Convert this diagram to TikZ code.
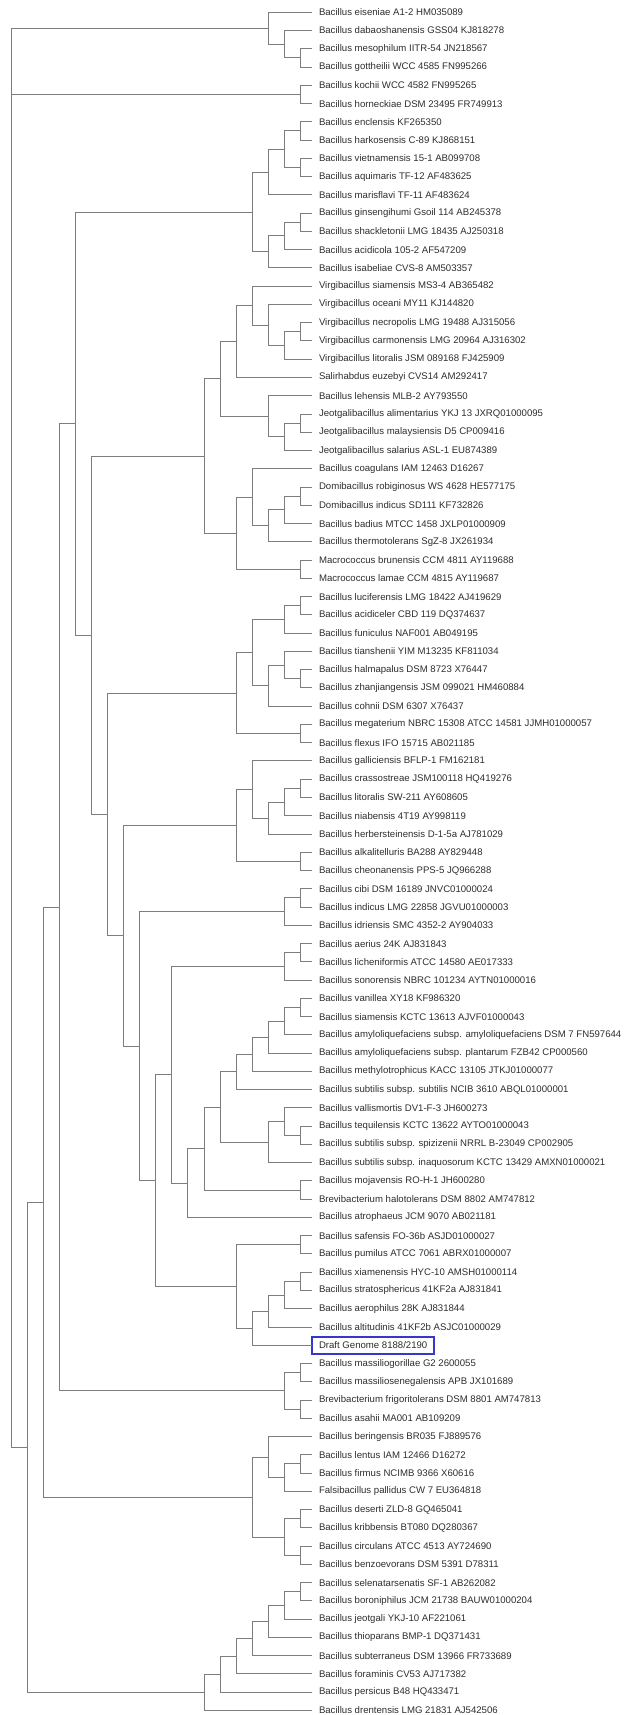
\documentclass[tikz,border=0pt]{standalone}
\usepackage{fontspec}
\setmainfont{Liberation Sans}
\usetikzlibrary{calc}
\definecolor{brc}{RGB}{125,125,125}
\definecolor{txc}{RGB}{45,45,45}
\definecolor{boxc}{RGB}{55,55,200}
\tikzset{
  br/.style={draw=brc, line width=1pt},
  leaf/.style={anchor=west, inner sep=0pt, outer xsep=7pt, text=txc, font=\fontsize{9.6}{10}\selectfont},
  draftbox/.style={anchor=west, draw=boxc, line width=1.8pt, inner xsep=7pt, inner ysep=5pt, outer sep=0pt, text=txc, font=\fontsize{9.6}{10}\selectfont}
}
\newcommand{\leafnode}[2]{\node[leaf] (t#1) at (312,{12.3+(#1-1)*18.26}) {#2};}
\newcommand{\inode}[4]{%
  \path ($(#3)!0.5!(#4)$) coordinate (mid#1);
  \coordinate (#1) at (mid#1 -| lv#2);
  \draw[br] (#1) |- (#3);
  \draw[br] (#1) |- (#4);}
\begin{document}
\begin{tikzpicture}[x=1pt,y=-1pt]
\useasboundingbox (0,0) rectangle (631,1715);
\foreach \k in {1,...,19} \coordinate (lv\k) at ({300.3-16.05*(\k-1)},0);
\leafnode{1}{Bacillus eiseniae A1-2 HM035089}
\leafnode{2}{Bacillus dabaoshanensis GSS04 KJ818278}
\leafnode{3}{Bacillus mesophilum IITR-54 JN218567}
\leafnode{4}{Bacillus gottheilii WCC 4585 FN995266}
\leafnode{5}{Bacillus kochii WCC 4582 FN995265}
\leafnode{6}{Bacillus horneckiae DSM 23495 FR749913}
\leafnode{7}{Bacillus enclensis KF265350}
\leafnode{8}{Bacillus harkosensis C-89 KJ868151}
\leafnode{9}{Bacillus vietnamensis 15-1 AB099708}
\leafnode{10}{Bacillus aquimaris TF-12 AF483625}
\leafnode{11}{Bacillus marisflavi TF-11 AF483624}
\leafnode{12}{Bacillus ginsengihumi Gsoil 114 AB245378}
\leafnode{13}{Bacillus shackletonii LMG 18435 AJ250318}
\leafnode{14}{Bacillus acidicola 105-2 AF547209}
\leafnode{15}{Bacillus isabeliae CVS-8 AM503357}
\leafnode{16}{Virgibacillus siamensis MS3-4 AB365482}
\leafnode{17}{Virgibacillus oceani MY11 KJ144820}
\leafnode{18}{Virgibacillus necropolis LMG 19488 AJ315056}
\leafnode{19}{Virgibacillus carmonensis LMG 20964 AJ316302}
\leafnode{20}{Virgibacillus litoralis JSM 089168 FJ425909}
\leafnode{21}{Salirhabdus euzebyi CVS14 AM292417}
\leafnode{22}{Bacillus lehensis MLB-2 AY793550}
\leafnode{23}{Jeotgalibacillus alimentarius YKJ 13 JXRQ01000095}
\leafnode{24}{Jeotgalibacillus malaysiensis D5 CP009416}
\leafnode{25}{Jeotgalibacillus salarius ASL-1 EU874389}
\leafnode{26}{Bacillus coagulans IAM 12463 D16267}
\leafnode{27}{Domibacillus robiginosus WS 4628 HE577175}
\leafnode{28}{Domibacillus indicus SD111 KF732826}
\leafnode{29}{Bacillus badius MTCC 1458 JXLP01000909}
\leafnode{30}{Bacillus thermotolerans SgZ-8 JX261934}
\leafnode{31}{Macrococcus brunensis CCM 4811 AY119688}
\leafnode{32}{Macrococcus lamae CCM 4815 AY119687}
\leafnode{33}{Bacillus luciferensis LMG 18422 AJ419629}
\leafnode{34}{Bacillus acidiceler CBD 119 DQ374637}
\leafnode{35}{Bacillus funiculus NAF001 AB049195}
\leafnode{36}{Bacillus tianshenii YIM M13235 KF811034}
\leafnode{37}{Bacillus halmapalus DSM 8723 X76447}
\leafnode{38}{Bacillus zhanjiangensis JSM 099021 HM460884}
\leafnode{39}{Bacillus cohnii DSM 6307 X76437}
\leafnode{40}{Bacillus megaterium NBRC 15308 ATCC 14581 JJMH01000057}
\leafnode{41}{Bacillus flexus IFO 15715 AB021185}
\leafnode{42}{Bacillus galliciensis BFLP-1 FM162181}
\leafnode{43}{Bacillus crassostreae JSM100118 HQ419276}
\leafnode{44}{Bacillus litoralis SW-211 AY608605}
\leafnode{45}{Bacillus niabensis 4T19 AY998119}
\leafnode{46}{Bacillus herbersteinensis D-1-5a AJ781029}
\leafnode{47}{Bacillus alkalitelluris BA288 AY829448}
\leafnode{48}{Bacillus cheonanensis PPS-5 JQ966288}
\leafnode{49}{Bacillus cibi DSM 16189 JNVC01000024}
\leafnode{50}{Bacillus indicus LMG 22858 JGVU01000003}
\leafnode{51}{Bacillus idriensis SMC 4352-2 AY904033}
\leafnode{52}{Bacillus aerius 24K AJ831843}
\leafnode{53}{Bacillus licheniformis ATCC 14580 AE017333}
\leafnode{54}{Bacillus sonorensis NBRC 101234 AYTN01000016}
\leafnode{55}{Bacillus vanillea XY18 KF986320}
\leafnode{56}{Bacillus siamensis KCTC 13613 AJVF01000043}
\leafnode{57}{Bacillus amyloliquefaciens subsp. amyloliquefaciens DSM 7 FN597644}
\leafnode{58}{Bacillus amyloliquefaciens subsp. plantarum FZB42 CP000560}
\leafnode{59}{Bacillus methylotrophicus KACC 13105 JTKJ01000077}
\leafnode{60}{Bacillus subtilis subsp. subtilis NCIB 3610 ABQL01000001}
\leafnode{61}{Bacillus vallismortis DV1-F-3 JH600273}
\leafnode{62}{Bacillus tequilensis KCTC 13622 AYTO01000043}
\leafnode{63}{Bacillus subtilis subsp. spizizenii NRRL B-23049 CP002905}
\leafnode{64}{Bacillus subtilis subsp. inaquosorum KCTC 13429 AMXN01000021}
\leafnode{65}{Bacillus mojavensis RO-H-1 JH600280}
\leafnode{66}{Brevibacterium halotolerans DSM 8802 AM747812}
\leafnode{67}{Bacillus atrophaeus JCM 9070 AB021181}
\leafnode{68}{Bacillus safensis FO-36b ASJD01000027}
\leafnode{69}{Bacillus pumilus ATCC 7061 ABRX01000007}
\leafnode{70}{Bacillus xiamenensis HYC-10 AMSH01000114}
\leafnode{71}{Bacillus stratosphericus 41KF2a AJ831841}
\leafnode{72}{Bacillus aerophilus 28K AJ831844}
\leafnode{73}{Bacillus altitudinis 41KF2b ASJC01000029}
\node[draftbox] (t74) at (312,{12.3+73*18.26}) {Draft Genome 8188/2190};
\leafnode{75}{Bacillus massiliogorillae G2 2600055}
\leafnode{76}{Bacillus massiliosenegalensis APB JX101689}
\leafnode{77}{Brevibacterium frigoritolerans DSM 8801 AM747813}
\leafnode{78}{Bacillus asahii MA001 AB109209}
\leafnode{79}{Bacillus beringensis BR035 FJ889576}
\leafnode{80}{Bacillus lentus IAM 12466 D16272}
\leafnode{81}{Bacillus firmus NCIMB 9366 X60616}
\leafnode{82}{Falsibacillus pallidus CW 7 EU364818}
\leafnode{83}{Bacillus deserti ZLD-8 GQ465041}
\leafnode{84}{Bacillus kribbensis BT080 DQ280367}
\leafnode{85}{Bacillus circulans ATCC 4513 AY724690}
\leafnode{86}{Bacillus benzoevorans DSM 5391 D78311}
\leafnode{87}{Bacillus selenatarsenatis SF-1 AB262082}
\leafnode{88}{Bacillus boroniphilus JCM 21738 BAUW01000204}
\leafnode{89}{Bacillus jeotgali YKJ-10 AF221061}
\leafnode{90}{Bacillus thioparans BMP-1 DQ371431}
\leafnode{91}{Bacillus subterraneus DSM 13966 FR733689}
\leafnode{92}{Bacillus foraminis CV53 AJ717382}
\leafnode{93}{Bacillus persicus B48 HQ433471}
\leafnode{94}{Bacillus drentensis LMG 21831 AJ542506}
% clade A
\inode{a1}{1}{t3.west}{t4.west}
\inode{a2}{2}{t2.west}{a1}
\inode{a3}{3}{t1.west}{a2}
\inode{k1}{1}{t5.west}{t6.west}
% clade B
\inode{b1}{1}{t7.west}{t8.west}
\inode{b2}{1}{t9.west}{t10.west}
\inode{b3}{2}{b1}{b2}
\inode{b4}{3}{b3}{t11.west}
\inode{b5}{1}{t12.west}{t13.west}
\inode{b6}{2}{b5}{t14.west}
\inode{b7}{3}{b6}{t15.west}
\inode{b8}{4}{b4}{b7}
% clade C
\inode{c1}{1}{t18.west}{t19.west}
\inode{c2}{2}{c1}{t20.west}
\inode{c3}{3}{t17.west}{c2}
\inode{c4}{4}{t16.west}{c3}
\inode{c5}{5}{c4}{t21.west}
% clade J
\inode{j1}{1}{t23.west}{t24.west}
\inode{j2}{2}{j1}{t25.west}
\inode{j3}{3}{t22.west}{j2}
% clade E
\inode{e1}{1}{t27.west}{t28.west}
\inode{e2}{2}{e1}{t29.west}
\inode{e3}{3}{e2}{t30.west}
\inode{e4}{4}{t26.west}{e3}
\inode{e5}{1}{t31.west}{t32.west}
\inode{e6}{5}{e4}{e5}
% clade G
\inode{g1}{1}{t33.west}{t34.west}
\inode{g2}{2}{g1}{t35.west}
\inode{g3}{1}{t37.west}{t38.west}
\inode{g4}{2}{t36.west}{g3}
\inode{g5}{3}{g4}{t39.west}
\inode{g6}{4}{g2}{g5}
\inode{g7}{1}{t40.west}{t41.west}
\inode{g8}{5}{g6}{g7}
% clade H
\inode{h1}{1}{t43.west}{t44.west}
\inode{h2}{2}{h1}{t45.west}
\inode{h3}{3}{h2}{t46.west}
\inode{h4}{4}{t42.west}{h3}
\inode{h5}{1}{t47.west}{t48.west}
\inode{h6}{5}{h4}{h5}
% clade I
\inode{i1}{1}{t49.west}{t50.west}
\inode{i2}{2}{i1}{t51.west}
\inode{i3}{1}{t52.west}{t53.west}
\inode{i4}{2}{i3}{t54.west}
% subtilis group
\inode{s1}{1}{t55.west}{t56.west}
\inode{s2}{2}{s1}{t57.west}
\inode{s3}{3}{s2}{t58.west}
\inode{s4}{4}{s3}{t59.west}
\inode{s5}{5}{s4}{t60.west}
\inode{s6}{1}{t62.west}{t63.west}
\inode{s7}{2}{t61.west}{s6}
\inode{s8}{3}{s7}{t64.west}
\inode{s9}{1}{t65.west}{t66.west}
% pumilus group
\inode{p1}{1}{t68.west}{t69.west}
\inode{p2}{1}{t70.west}{t71.west}
\inode{p3}{2}{p2}{t72.west}
\inode{p4}{3}{p3}{t73.west}
\inode{p5}{4}{p4}{t74.west}
\inode{p6}{5}{p1}{p5}
% clade M
\inode{m1}{1}{t75.west}{t76.west}
\inode{m2}{1}{t77.west}{t78.west}
\inode{m3}{2}{m1}{m2}
% clade F
\inode{f1}{1}{t80.west}{t81.west}
\inode{f2}{2}{f1}{t82.west}
\inode{f3}{3}{t79.west}{f2}
\inode{f4}{1}{t83.west}{t84.west}
\inode{f5}{1}{t85.west}{t86.west}
\inode{f6}{2}{f4}{f5}
\inode{f7}{4}{f3}{f6}
% clade U
\inode{u1}{1}{t87.west}{t88.west}
\inode{u2}{2}{u1}{t89.west}
\inode{u3}{3}{u2}{t90.west}
\inode{u4}{4}{u3}{t91.west}
\inode{u5}{5}{u4}{t92.west}
\inode{q6}{6}{u5}{t93.west}
\inode{q7}{7}{q6}{t94.west}
% deep structure
\inode{v1}{6}{c5}{j3}
\inode{v2}{7}{v1}{e6}
\inode{x6}{6}{s5}{s8}
\inode{x7}{7}{x6}{s9}
\inode{x8}{8}{x7}{t67.west}
\inode{x9}{9}{i4}{x8}
\inode{x10}{10}{x9}{p6}
\inode{x11}{11}{i2}{x10}
\inode{w3}{12}{h6}{x11}
\inode{w2}{13}{g8}{w3}
\inode{w}{14}{v2}{w2}
\inode{z}{15}{b8}{w}
\inode{y}{16}{z}{m3}
\inode{x}{17}{y}{f7}
\inode{rp}{18}{x}{q7}
\inode{root}{19}{a3}{rp}
\draw[br] (root |- k1) -- (k1);
\end{tikzpicture}
\end{document}
